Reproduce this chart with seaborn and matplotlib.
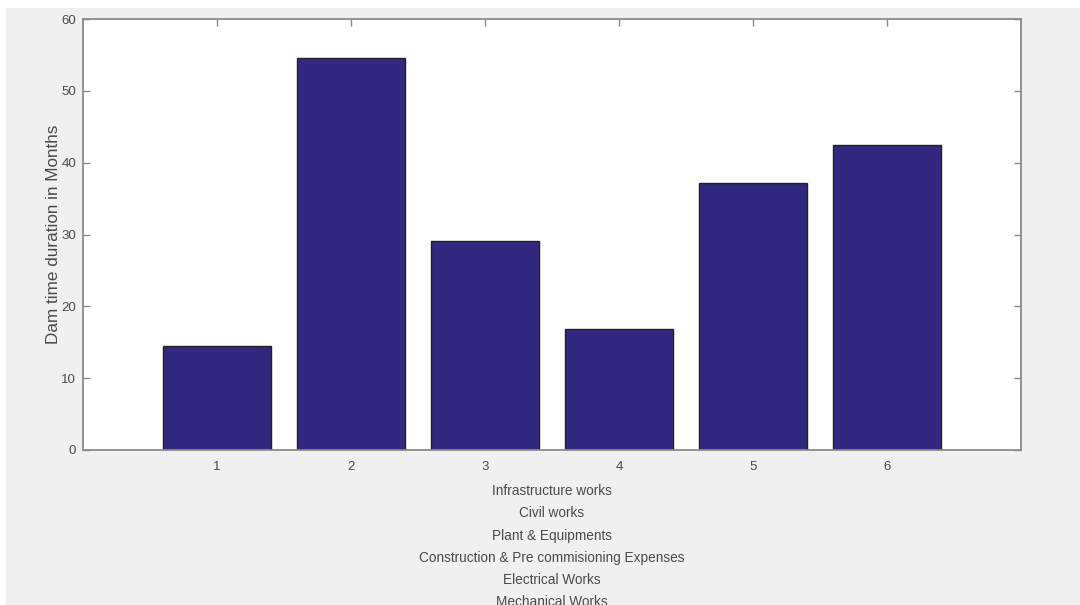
import matplotlib
matplotlib.use("Agg")
import matplotlib.pyplot as plt
import seaborn as sns
import pandas as pd
from matplotlib.patches import Rectangle

# Work packages and their durations (months)
positions = [1, 2, 3, 4, 5, 6]
durations = [14.5, 54.6, 29.1, 16.8, 37.2, 42.4]
work_packages = [
    "Infrastructure works",
    "Civil works",
    "Plant & Equipments",
    "Construction & Pre commisioning Expenses",
    "Electrical Works",
    "Mechanical Works",
]
y_ticks = [0, 10, 20, 30, 40, 50, 60]

sns.set_theme(style="white")
plt.rcParams["font.family"] = ["Liberation Sans", "DejaVu Sans"]

df = pd.DataFrame({"pos": positions, "months": durations})

fig = plt.figure(figsize=(10.8, 6.05), dpi=100, facecolor="white")
# grey window background with a thin white margin on top and left
fig.patches.append(Rectangle((6 / 1080, 0), 1, 1 - 8 / 605, transform=fig.transFigure,
                             facecolor="#f0f0f0", edgecolor="none", zorder=-10))

ax = fig.add_axes([83 / 1080, 1 - 450 / 605, (1021 - 83) / 1080, (450 - 19) / 605])
ax.set_facecolor("white")

sns.barplot(data=df, x="pos", y="months", native_scale=True, width=0.8,
            color="#33287f", saturation=1, edgecolor="#222222", linewidth=1.0, ax=ax)

ax.set_xlim(0, 7)
ax.set_ylim(0, 60)
ax.set_xticks(positions)
ax.set_xticklabels([str(p) for p in positions])
ax.set_yticks(y_ticks)
ax.set_yticklabels([str(t) for t in y_ticks])

for side in ["left", "right", "top", "bottom"]:
    ax.spines[side].set_visible(True)
    ax.spines[side].set_color("#8a8a8a")
    ax.spines[side].set_linewidth(1.3)

ax.tick_params(axis="both", which="both", direction="in", length=5, width=1.0,
               color="#8a8a8a", labelcolor="#4a4a4a", labelsize=9.5,
               top=True, right=True, bottom=True, left=True)
ax.tick_params(axis="x", pad=8)
ax.tick_params(axis="y", pad=5)

ax.set_ylabel("Dam time duration in Months", fontsize=12.3, color="#4a4a4a", labelpad=0)
ax.set_xlabel("\n".join(work_packages), fontsize=9.8, color="#4a4a4a",
              linespacing=1.74, labelpad=8, va="top")

fig.savefig("out.png", dpi=100, facecolor=fig.get_facecolor())
